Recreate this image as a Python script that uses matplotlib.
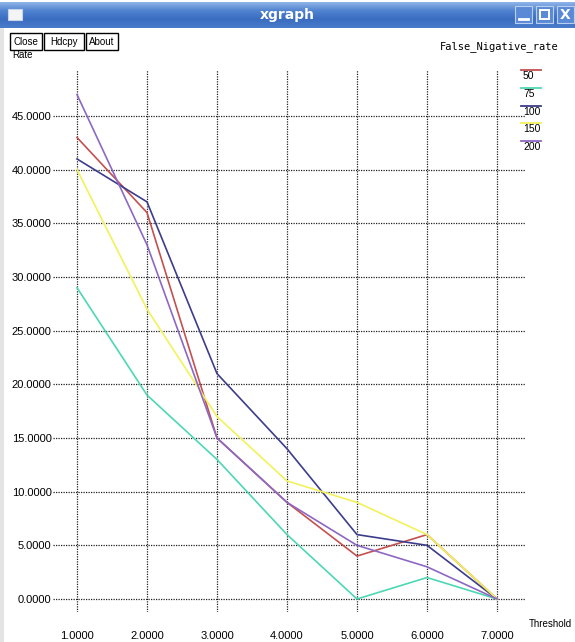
import matplotlib
matplotlib.use("Agg")
import matplotlib.pyplot as plt
import numpy as np
from matplotlib.patches import Rectangle
from matplotlib.lines import Line2D

W, H = 575, 642

thresholds = [1, 2, 3, 4, 5, 6, 7]
series_names = ["50", "75", "100", "150", "200"]
rate_50 = [43, 36, 15, 9, 4, 6, 0]
rate_75 = [29, 19, 13, 6, 0, 2, 0]
rate_100 = [41, 37, 21, 14, 6, 5, 0]
rate_150 = [40, 27, 17, 11, 9, 6, 0]
rate_200 = [47, 33, 15, 9, 5, 3, 0]
y_ticks = [0, 5, 10, 15, 20, 25, 30, 35, 40, 45]
colors = ["#c45050", "#4cd8b4", "#3c3c8c", "#f2f25a", "#8c68c4"]

plt.rcParams['font.family'] = ['Liberation Sans', 'DejaVu Sans']

fig = plt.figure(figsize=(W / 100, H / 100), dpi=100)
fig.patch.set_facecolor("white")

def fx(px):
    return px / W

def fy(py):
    return 1 - py / H

# ---- window decorations ----
deco = fig.add_axes([0, 0, 1, 1], zorder=0)
deco.set_xlim(0, W)
deco.set_ylim(H, 0)
deco.axis("off")
# title bar gradient
grad = np.linspace(0, 1, 50).reshape(-1, 1)
from matplotlib.colors import LinearSegmentedColormap
cm = LinearSegmentedColormap.from_list("tb", ["#8fb4e8", "#4f82cf", "#3a6cc0", "#4a7ccb"])
deco.imshow(grad, extent=[0, W, 28, 2], cmap=cm, aspect="auto", zorder=1)
deco.text(W / 2, 15, "xgraph", color="white", fontsize=10, fontweight="bold",
          ha="center", va="center", family=["DejaVu Sans"], zorder=3)
deco.add_patch(Rectangle((8, 9), 14, 11, facecolor="#f4f4f4", edgecolor="#c8d4e8", lw=0.8, zorder=3))
for i, x0 in enumerate([515, 536, 557]):
    deco.add_patch(Rectangle((x0, 6), 17, 17, facecolor="#5a8ad6", edgecolor="#b8cff0", lw=0.8, zorder=3))
deco.plot([519, 528], [19, 19], color="white", lw=2, zorder=4)
deco.add_patch(Rectangle((540, 10), 9, 9, facecolor="none", edgecolor="white", lw=1.4, zorder=4))
deco.text(565.5, 15, "X", color="white", fontsize=10, fontweight="bold", ha="center", va="center",
          family=["DejaVu Sans"], zorder=4)
# left border
deco.add_patch(Rectangle((0, 28), 4, H - 28, facecolor="#e4e4e4", edgecolor="none", zorder=1))

# buttons
for label, x0, x1 in [("Close", 10, 42), ("Hdcpy", 44, 84), ("About", 86, 118)]:
    deco.add_patch(Rectangle((x0, 33), x1 - x0, 17, facecolor="white", edgecolor="black", lw=1.0, zorder=3))
    deco.text((x0 + x1) / 2, 42, label, fontsize=7, ha="center", va="center", zorder=4)
deco.text(12, 55, "Rate", fontsize=7, ha="left", va="center", zorder=2)
deco.text(440, 47, "False_Nigative_rate", fontsize=7.5, ha="left", va="center",
          family=["DejaVu Sans Mono"], zorder=2)
deco.text(529, 624, "Threshold", fontsize=7, ha="left", va="center", zorder=2)

# legend
for i, (name, c) in enumerate(zip(series_names, colors)):
    yl = 70 + i * 17.8
    deco.plot([521, 541], [yl, yl], color=c, lw=1.3, zorder=3)
    deco.text(523, yl + 6, name, fontsize=7.5, ha="left", va="center", zorder=3)

# ---- data axes ----
left_px, right_px, top_px, bot_px = 53, 525, 70, 612
ax = fig.add_axes([fx(left_px), fy(bot_px), (right_px - left_px) / W, (bot_px - top_px) / H], zorder=2)
ax.patch.set_alpha(0)
px_per_x = 70.0
px_per_y = (599 - 116) / 45.0
ax.set_xlim(1 - (77 - left_px) / px_per_x, 7 + (right_px - 497) / px_per_x)
ax.set_ylim(-(bot_px - 599) / px_per_y, (599 - top_px) / px_per_y)
for s in ax.spines.values():
    s.set_visible(False)
ax.set_xticks(thresholds)
ax.set_xticklabels([f"{t:.4f}" for t in thresholds])
ax.set_yticks(y_ticks)
ax.set_yticklabels([f"{t:.4f}" for t in y_ticks])
ax.tick_params(length=0, labelsize=8)
ax.tick_params(axis="x", pad=14)
ax.tick_params(axis="y", pad=1)
ax.grid(True, color="#222222", linestyle=(0, (1, 1)), lw=0.9)
ax.set_axisbelow(True)

for vals, c in zip([rate_50, rate_75, rate_100, rate_150, rate_200], colors):
    ax.plot(thresholds, vals, color=c, lw=1.2, zorder=3)

fig.savefig("out.png", dpi=100)
